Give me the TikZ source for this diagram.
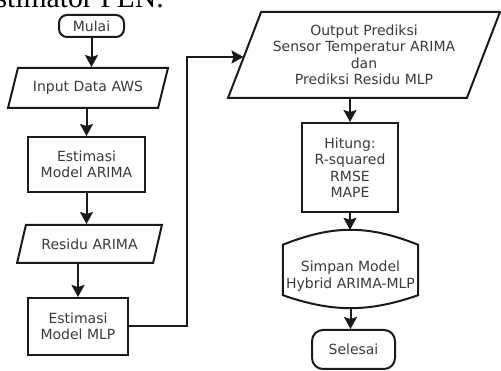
\documentclass[tikz,border=0pt]{standalone}
\usepackage{fontspec}
\setmainfont{DejaVu Sans}
\newfontfamily\captionserif{Liberation Serif}
\usetikzlibrary{shapes.geometric,arrows.meta,calc}
\definecolor{linec}{HTML}{1A1A1A}
\definecolor{txtc}{HTML}{3A3A3A}
\newcommand{\flowfont}{\fontsize{14}{16.5}\selectfont}

\begin{document}
\begin{tikzpicture}[x=1pt,y=-1pt,
  line/.style={draw=linec, line width=2pt},
  flow/.style={line, -{Stealth[length=12pt,width=13pt,inset=2pt]}},
  label text/.style={text=txtc, font=\flowfont, align=center},
  procbox/.style={rectangle, line, label text, inner sep=2pt},
  iobox/.style={trapezium, trapezium left angle=65, trapezium right angle=115,
    trapezium stretches=true, line, label text, inner sep=2pt},
  termbox/.style={rectangle, line, label text, inner sep=2pt},
  ghost/.style={rectangle, draw=none, inner sep=0pt}]

\useasboundingbox (0,0) rectangle (501,371);
\clip (0,0) rectangle (501,371);

% caption line running above the chart
\node[anchor=base east, inner sep=0pt, font=\captionserif\fontsize{29.7}{32}\selectfont]
  (caption) at (164,7.5) {Estimator PLN.};

% left column
\node[termbox, rounded corners=8pt, minimum width=65pt, minimum height=22pt]
  (mulai) at (91.5,26) {Mulai};
\node[iobox, minimum width=160pt, minimum height=40pt]
  (input) at (88,88) {Input Data AWS};
\node[procbox, minimum width=117pt, minimum height=55pt]
  (arima) at (86.5,164.5) {Estimasi\\Model ARIMA};
\node[iobox, minimum width=145pt, minimum height=38pt]
  (residu) at (89.5,244) {Residu ARIMA};
\node[procbox, minimum width=100pt, minimum height=57pt]
  (mlp) at (78,326.5) {Estimasi\\Model MLP};

% right column
\node[iobox, minimum width=272pt, minimum height=86pt]
  (output) at (364,55) {Output Prediksi\\Sensor Temperatur ARIMA\\dan\\Prediksi Residu MLP};
\node[procbox, minimum width=96pt, minimum height=89pt]
  (hitung) at (350,167.5) {Hitung:\\R-squared\\RMSE\\MAPE};

% stored-data shape: straight sides, arched top and bottom
\node[ghost, minimum width=135pt, minimum height=78pt] (simpan) at (350.5,269) {};
\draw[line]
  ($(simpan.north west)+(0,15)$)
    .. controls ($(simpan.north west)+(50,-5)$) and ($(simpan.north east)+(-50,-5)$) ..
  ($(simpan.north east)+(0,15)$)
  -- ($(simpan.south east)+(0,-13)$)
    .. controls ($(simpan.south east)+(-50,4.3)$) and ($(simpan.south west)+(50,4.3)$) ..
  ($(simpan.south west)+(0,-13)$)
  -- cycle;
\node[label text, inner sep=0pt] (simpantext) at ($(simpan.center)+(0,7)$)
  {Simpan Model\\Hybrid ARIMA-MLP};

\node[termbox, rounded corners=11pt, minimum width=83pt, minimum height=39pt]
  (selesai) at (353.5,349.5) {Selesai};

% connectors
\draw[flow] (mulai.south) -- (mulai.south |- input.north);
\draw[flow] (arima.north |- input.south) -- (arima.north);
\draw[flow] (arima.south) -- (arima.south |- residu.north);
\draw[flow] (mlp.north |- residu.south) -- (mlp.north);
\coordinate (elbow) at (187,57);
\draw[flow] (mlp.east) -| (elbow) -- (elbow -| output.west);
\draw[flow] (hitung.north |- output.south) -- (hitung.north);
\draw[flow] (hitung.south) -- (hitung.south |- simpan.north);
\draw[flow] (simpan.south) -- (simpan.south |- selesai.north);
\end{tikzpicture}
\end{document}
